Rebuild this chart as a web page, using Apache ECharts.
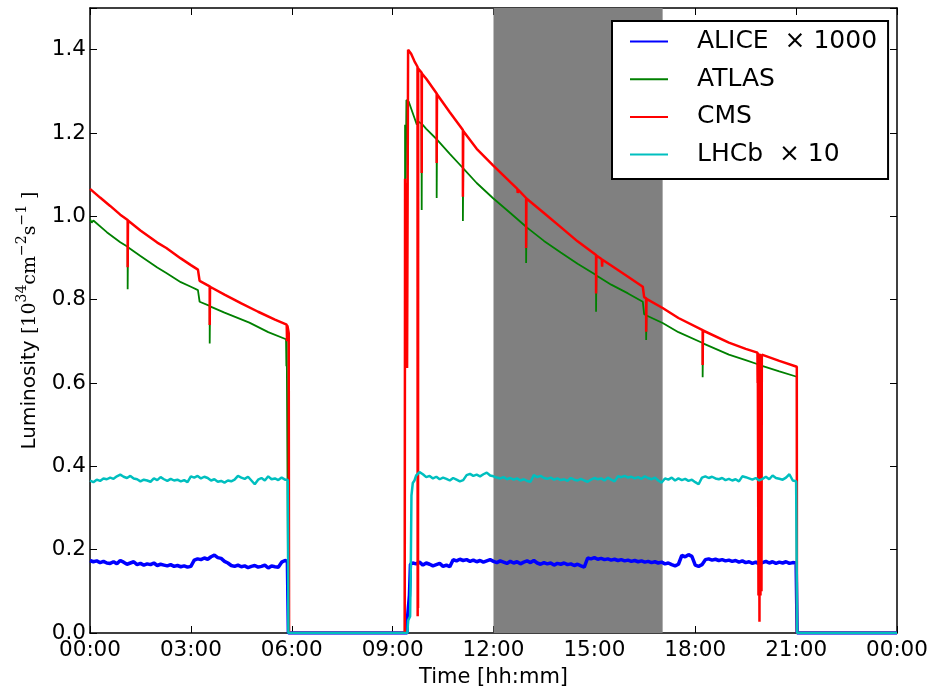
<!DOCTYPE html>
<html><head><meta charset="utf-8">
<script src="https://cdn.jsdelivr.net/npm/echarts@6/dist/echarts.min.js"></script>
<style>html,body{margin:0;padding:0;background:#fff}#c{width:934px;height:693px}</style>
</head><body><div id="c"></div>
<script>
// ---------------- data ----------------
const HOUR_LABELS = ['00:00','03:00','06:00','09:00','12:00','15:00','18:00','21:00','00:00'];
const Y_LABELS = ['0.0','0.2','0.4','0.6','0.8','1.0','1.2','1.4'];
const SERIES_NAMES = ['ALICE  \u00d7 1000', 'ATLAS', 'CMS', 'LHCb  \u00d7 10'];
const GREY_BAND = [12.0, 17.03];          // hours
const SAMPLE_STEP = 0.1;                  // hours between samples of the noisy series
const FILL1_START = 0.0;
const FILL2_START = 9.7;

// ALICE x1000, samples every 0.1 h
const ALICE_FILL1 = [0.174,0.171,0.173,0.169,0.172,0.168,
  0.167,0.171,0.166,0.174,0.170, 0.165,0.168,0.171,0.164,0.167,
  0.163,0.166,0.164,0.168,0.162, 0.165,0.163,0.161,0.164,0.160,
  0.162,0.159,0.161,0.158,0.160, 0.175,0.178,0.176,0.180,0.177,
  0.183,0.187,0.181,0.179,0.172, 0.168,0.162,0.160,0.163,0.159,
  0.161,0.157,0.160,0.162,0.158, 0.160,0.163,0.156,0.161,0.159,
  0.158,0.170,0.174];
const ALICE_FILL2 = [0.166,0.170,0.163,0.168,
  0.165,0.161,0.164,0.167,0.160, 0.163,0.159,0.176,0.173,0.177,
  0.174,0.176,0.172,0.175,0.171, 0.174,0.170,0.173,0.176,0.172,
  0.169,0.173,0.170,0.167,0.172, 0.168,0.171,0.166,0.170,0.173,
  0.169,0.174,0.168,0.165,0.169, 0.166,0.168,0.163,0.167,0.165,
  0.168,0.164,0.166,0.162,0.165, 0.161,0.158,0.180,0.178,0.181,
  0.177,0.179,0.176,0.178,0.175, 0.177,0.174,0.176,0.173,0.175,
  0.172,0.174,0.171,0.173,0.170, 0.172,0.169,0.171,0.168,0.170,
  0.166,0.168,0.164,0.161,0.165, 0.186,0.183,0.188,0.184,0.163,
  0.160,0.164,0.176,0.178,0.175, 0.177,0.174,0.176,0.173,0.175,
  0.172,0.174,0.170,0.173,0.169, 0.171,0.167,0.170,0.166,0.169,
  0.172,0.168,0.171,0.167,0.170, 0.168,0.171,0.167,0.169,0.168];
const ALICE_GAP1 = [[5.87,0.172],[5.90,0],[9.43,0]];
const ALICE_RAMP = [[9.44,0.035],[9.48,0.035],[9.50,0.09],[9.53,0.165],[9.60,0.168],[9.65,0.171]];
const ALICE_END = [[21.02,0.168],[21.03,0],[24,0]];

// LHCb x10, samples every 0.1 h
const LHCB_FILL1 = [0.366,0.362,0.368,0.365,0.371,0.369,
  0.373,0.370,0.376,0.380,0.375, 0.372,0.377,0.371,0.369,0.364,
  0.368,0.366,0.363,0.371,0.367, 0.374,0.369,0.365,0.370,0.366,
  0.368,0.364,0.367,0.362,0.376, 0.373,0.377,0.371,0.375,0.372,
  0.366,0.369,0.363,0.365,0.361, 0.366,0.364,0.368,0.377,0.373,
  0.370,0.375,0.366,0.357,0.368, 0.372,0.366,0.376,0.369,0.371,
  0.367,0.373,0.368];
const LHCB_FILL2 = [0.378,0.386,0.381,0.374,
  0.377,0.371,0.375,0.369,0.373, 0.370,0.366,0.372,0.368,0.364,
  0.367,0.379,0.382,0.377,0.380, 0.376,0.381,0.385,0.378,0.376,
  0.373,0.371,0.374,0.369,0.372, 0.368,0.371,0.366,0.369,0.365,
  0.363,0.379,0.374,0.377,0.372, 0.370,0.373,0.368,0.371,0.367,
  0.369,0.365,0.372,0.368,0.366, 0.370,0.366,0.363,0.368,0.372,
  0.369,0.371,0.366,0.373,0.368, 0.364,0.376,0.374,0.377,0.373,
  0.375,0.371,0.374,0.370,0.376, 0.372,0.369,0.373,0.366,0.361,
  0.371,0.368,0.373,0.366,0.371, 0.367,0.370,0.365,0.368,0.362,
  0.357,0.373,0.376,0.372,0.375, 0.371,0.369,0.372,0.367,0.370,
  0.366,0.369,0.364,0.376,0.374, 0.371,0.368,0.372,0.366,0.370,
  0.375,0.369,0.378,0.372,0.370, 0.368,0.373,0.381,0.366,0.364];
const LHCB_GAP1 = [[5.88,0.368],[5.90,0],[9.44,0]];
const LHCB_RAMP = [[9.46,0.03],[9.52,0.04],[9.54,0.16],[9.56,0.33],[9.60,0.36],[9.65,0.366]];
const LHCB_END = [[21.02,0.364],[21.03,0],[24,0]];

// ATLAS  [hour, luminosity]
const ATLAS = [[0,0.993],[0.05,0.985],[0.1,0.990],[0.5,0.962],[0.9,0.938],[1.12,0.927],[1.12,0.825],[1.13,0.926],
  [1.5,0.905],[2.0,0.877],[2.27,0.864],[2.7,0.842],[3.0,0.831],[3.21,0.823],[3.26,0.795],[3.56,0.785],[3.56,0.695],
  [3.57,0.784],[4.0,0.769],[4.74,0.745],[5.3,0.722],[5.83,0.705],[5.84,0.64],[5.85,0.703],[5.88,0.700],[5.90,0],
  [9.36,0],[9.37,1.22],[9.39,1.09],[9.41,1.279],[9.48,1.275],[9.65,1.236],[9.70,1.232],[9.72,1.22],[9.75,1.228],
  [9.86,1.222],[9.865,1.015],[9.87,1.222],[10.0,1.21],[10.31,1.185],[10.31,1.044],[10.32,1.184],[10.7,1.15],
  [11.09,1.116],[11.09,0.989],[11.10,1.115],[11.5,1.08],[11.98,1.044],[12.5,1.008],[12.97,0.975],[12.97,0.888],
  [12.98,0.974],[13.5,0.941],[14.0,0.913],[14.5,0.886],[15.05,0.859],[15.05,0.771],[15.06,0.858],[15.5,0.836],
  [16.0,0.815],[16.44,0.795],[16.48,0.765],[16.54,0.763],[16.54,0.703],[16.55,0.762],[17.03,0.744],[17.5,0.722],
  [18.22,0.696],[18.22,0.614],[18.23,0.695],[19.0,0.668],[19.5,0.655],[19.86,0.645],[19.865,0.583],[19.87,0.644],
  [20.5,0.628],[21.02,0.615],[21.025,0],[24,0]];

// CMS  [hour, luminosity]
const CMS = [[0,1.066],[0.3,1.045],[0.6,1.025],[0.9,1.004],[1.12,0.991],[1.12,0.878],[1.13,0.990],[1.5,0.966],
  [2.0,0.937],[2.27,0.924],[2.7,0.899],[3.0,0.883],[3.21,0.872],[3.26,0.845],[3.56,0.832],[3.56,0.739],[3.57,0.831],
  [4.0,0.812],[4.5,0.791],[5.0,0.771],[5.5,0.752],[5.85,0.740],[5.86,0.70],[5.87,0.738],[5.91,0.72],[5.92,0],
  [9.36,0],[9.37,1.09],[9.38,0.95],[9.40,1.08],[9.43,0.636],[9.46,1.40],[9.55,1.39],[9.65,1.372],[9.74,1.359],
  [9.745,0.04],[9.75,1.357],[9.755,0.06],[9.76,1.355],[9.86,1.345],[9.865,1.104],[9.87,1.343],[10.0,1.33],
  [10.31,1.295],[10.31,1.128],[10.32,1.293],[10.7,1.25],[11.09,1.207],[11.09,1.047],[11.10,1.205],[11.5,1.162],
  [11.98,1.123],[12.5,1.082],[12.71,1.066],[12.72,1.056],[12.73,1.064],[12.97,1.044],[12.97,0.924],[12.98,1.043],
  [13.5,1.008],[14.0,0.974],[14.5,0.940],[15.05,0.907],[15.05,0.815],[15.06,0.906],[15.22,0.897],[15.23,0.879],
  [15.24,0.896],[15.5,0.882],[16.0,0.855],[16.44,0.831],[16.48,0.806],[16.54,0.803],[16.54,0.723],[16.55,0.802],
  [17.03,0.780],[17.5,0.756],[18.22,0.727],[18.22,0.643],[18.23,0.726],[19.0,0.697],[19.5,0.682],[19.85,0.673],
  [19.855,0.60],[19.86,0.672],[19.88,0.09],[19.89,0.671],[19.91,0.027],[19.92,0.670],[19.94,0.09],[19.95,0.669],
  [19.97,0.10],[19.98,0.668],[20.5,0.653],[21.02,0.639],[21.025,0],[24,0]];

// ---------------- build ----------------
function sampled(start, values) {
  return values.map((v, i) => [+(start + i * SAMPLE_STEP).toFixed(3), v]);
}
const aliceData = [].concat(sampled(FILL1_START, ALICE_FILL1), ALICE_GAP1, ALICE_RAMP, sampled(FILL2_START, ALICE_FILL2), ALICE_END);
const lhcbData = [].concat(sampled(FILL1_START, LHCB_FILL1), LHCB_GAP1, LHCB_RAMP, sampled(FILL2_START, LHCB_FILL2), LHCB_END);

const FONT = 'DejaVu Sans';
const SERIF = 'DejaVu Serif';
const chart = echarts.init(document.getElementById('c'), null, {renderer: 'canvas'});
const axisLineStyle = {color: '#000', width: 1.5};
const xBase = {type: 'value', min: 0, max: 24, interval: 3, splitLine: {show: false},
  axisLine: {lineStyle: axisLineStyle, onZero: false},
  axisTick: {inside: true, length: 7, lineStyle: {color: '#000', width: 1}}};
const yBase = {type: 'value', min: 0, max: 1.5, interval: 0.2, splitLine: {show: false},
  axisLine: {show: true, lineStyle: axisLineStyle, onZero: false},
  axisTick: {show: true, inside: true, length: 7, lineStyle: {color: '#000', width: 1}}};

const lineSeries = (name, data, color, width) => ({
  name, type: 'line', data, symbol: 'none', showSymbol: false, animation: false,
  lineStyle: {color, width}, itemStyle: {color}, z: 3, silent: true
});

const option = {
  animation: false,
  backgroundColor: '#fff',
  grid: {left: 90, right: 37, top: 8, bottom: 60, containLabel: false},
  xAxis: [
    Object.assign({}, xBase, {position: 'bottom',
      axisLabel: {color: '#000', fontFamily: FONT, fontSize: 21.5, margin: 6,
        formatter: v => HOUR_LABELS[Math.round(v / 3)]},
      name: 'Time [hh:mm]', nameLocation: 'middle', nameGap: 34,
      nameTextStyle: {color: '#000', fontFamily: FONT, fontSize: 21}}),
    Object.assign({}, xBase, {position: 'top', axisLabel: {show: false}})
  ],
  yAxis: [
    Object.assign({}, yBase, {position: 'left',
      axisLabel: {color: '#000', fontFamily: FONT, fontSize: 21.5, margin: 4,
        formatter: v => { const i = Math.round(v / 0.2); return Math.abs(v - i * 0.2) < 1e-6 ? Y_LABELS[i] : ''; }},
      name: '{a|Luminosity }{m|[10}{s|34}{m|cm}{s|\u22122}{m|s}{s|\u22121}{m| ]}',
      nameLocation: 'middle', nameRotate: 90, nameGap: 45,
      nameTextStyle: {color: '#000', rich: {
        a: {fontFamily: FONT, fontSize: 20, lineHeight: 30, color: '#000'},
        m: {fontFamily: SERIF, fontSize: 19, lineHeight: 30, color: '#000'},
        s: {fontFamily: SERIF, fontSize: 14, lineHeight: 16, verticalAlign: 'top', color: '#000'}
      }}}),
    Object.assign({}, yBase, {position: 'right', axisLabel: {show: false}})
  ],
  legend: {
    show: true, orient: 'vertical', left: 612, top: 21,
    data: SERIES_NAMES,
    icon: 'rect', itemWidth: 38, itemHeight: 2, itemGap: 12.7,
    padding: [8, 11, 12, 18],
    backgroundColor: '#fff', borderColor: '#000', borderWidth: 2, borderRadius: 0,
    textStyle: {color: '#000', fontFamily: FONT, fontSize: 25, lineHeight: 25, padding: [0, 0, 0, 24]},
    selectedMode: false
  },
  series: [
    Object.assign(lineSeries(SERIES_NAMES[0], aliceData, '#0000ff', 3.5), {
      markArea: {silent: true, z: 1, itemStyle: {color: '#808080', opacity: 1},
        data: [[{xAxis: GREY_BAND[0]}, {xAxis: GREY_BAND[1]}]]}}),
    lineSeries(SERIES_NAMES[1], ATLAS, '#008000', 1.8),
    lineSeries(SERIES_NAMES[2], CMS, '#ff0000', 2.5),
    lineSeries(SERIES_NAMES[3], lhcbData, '#00bfbf', 2.5)
  ]
};
chart.setOption(option);
</script></body></html>
